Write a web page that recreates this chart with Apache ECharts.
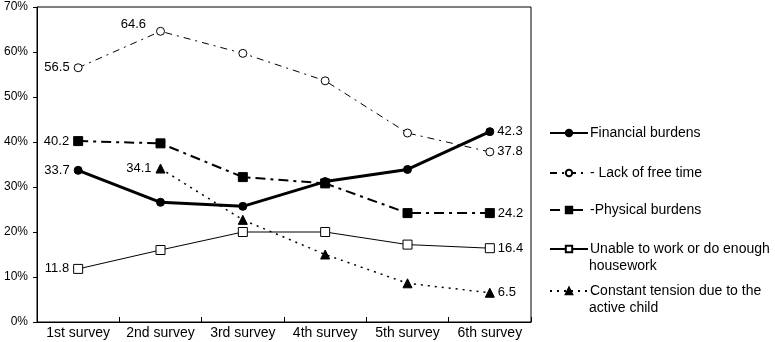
<!DOCTYPE html>
<html>
<head>
<meta charset="utf-8">
<script src="https://cdn.jsdelivr.net/npm/echarts@6/dist/echarts.min.js"></script>
<style>html,body{margin:0;padding:0;background:#fff;}#c{width:775px;height:342px;}</style>
</head>
<body>
<div id="c"></div>
<script>
var categories = ['1st survey','2nd survey','3rd survey','4th survey','5th survey','6th survey'];
var yTicks = [0,10,20,30,40,50,60,70];
var financial = [33.7, 26.6, 25.7, 31.2, 33.9, 42.3];
var freeTime  = [56.5, 64.6, 59.7, 53.6, 42.0, 37.8];
var physical  = [40.2, 39.7, 32.2, 30.8, 24.2, 24.2];
var unable    = [11.8, 16.0, 20.0, 20.0, 17.2, 16.4];
var tension   = [null, 34.1, 22.7, 15.0, 8.6, 6.5];
var names = ['Financial burdens','Lack of free time','Physical burdens','Unable to work or do enough housework','Constant tension due to the active child'];
var legendLines = [['Financial burdens'],['- Lack of free time'],['-Physical burdens'],['Unable to work or do enough','housework'],['Constant tension due to the','active child']];
// which points carry a value label, and where
var labelled = [
  {0:'left',5:'right'},
  {0:'left',1:'above',5:'right'},
  {0:'left',5:'right'},
  {0:'left',5:'right'},
  {1:'left',5:'right'}
];
var FONT = 'Liberation Sans';
var fontSize = 13;

function build(values, idx){
  return values.map(function(v,i){
    var pos = labelled[idx][i];
    if (v === null) return null;
    if (!pos) return v;
    var lab = {show:true, color:'#000', fontFamily:FONT, fontSize:fontSize, formatter: v.toFixed(1)};
    if (pos === 'left') { lab.position = 'left'; lab.distance = 4; }
    else if (pos === 'right') { lab.position = 'right'; lab.distance = 3; }
    else { lab.position = 'left'; lab.distance = 5; lab.offset = [-5,-7]; }
    return {value: v, label: lab};
  });
}

var styles = [
  {line:{width:3, type:'solid'}, symbol:'circle', size:8, fill:'#000'},
  {line:{width:1, type:[7,5,2,5]}, symbol:'circle', size:8, fill:'#fff'},
  {line:{width:2, type:[10,5,3,5]}, symbol:'rect', size:9, fill:'#000'},
  {line:{width:1, type:'solid'}, symbol:'rect', size:9, fill:'#fff'},
  {line:{width:1.5, type:[2,5]}, symbol:'triangle', size:9, fill:'#000'}
];
var dataSets = [financial, freeTime, physical, unable, tension];

var series = dataSets.map(function(d,i){
  var s = styles[i];
  return {
    name: names[i], type:'line', data: build(d,i),
    symbol: s.symbol, symbolSize: s.size, showAllSymbol:true,
    connectNulls:false, animation:false,
    lineStyle:{color:'#000', width:s.line.width, type:s.line.type},
    itemStyle:{color:s.fill, borderColor:'#000', borderWidth:1, opacity:1},
    label:{show:false},
    emphasis:{disabled:true}
  };
});

var legendTops = [126, 166, 203, 242, 284];
var legends = names.map(function(n,i){
  return {
    data:[n], left:549, top:legendTops[i], orient:'vertical', padding:0,
    itemWidth:38, itemHeight:8, itemGap:0, selectedMode:false,
    textStyle:{color:'#000', fontFamily:FONT, fontSize:14, padding:[0,0,0,-3]},
    formatter: function(){ return legendLines[i][0]; }
  };
});
var graphics = [];
legendLines.forEach(function(l,i){
  if (l.length > 1) {
    graphics.push({type:'text', left:589, top:legendTops[i]+17,
      style:{text:l[1], fill:'#000', font: '14px "'+FONT+'"'}});
  }
});

var chart = echarts.init(document.getElementById('c'));
chart.setOption({
  animation:false,
  backgroundColor:'#fff',
  grid:{left:37, right:244, top:7, bottom:20, show:true, borderColor:'#000', borderWidth:1},
  legend: legends,
  graphic: graphics,
  xAxis:{type:'category', data:categories, boundaryGap:true,
    axisLine:{lineStyle:{color:'#000', width:1}},
    axisTick:{show:true, inside:true, length:5, alignWithLabel:false, lineStyle:{color:'#000'}},
    axisLabel:{color:'#000', fontFamily:FONT, fontSize:14, margin:4, interval:0},
    splitLine:{show:false}},
  yAxis:{type:'value', min:yTicks[0], max:yTicks[yTicks.length-1], interval:10,
    axisLine:{show:true, lineStyle:{color:'#000'}},
    axisTick:{show:true, length:4, lineStyle:{color:'#000'}},
    axisLabel:{color:'#000', fontFamily:FONT, fontSize:12, margin:9, formatter:'{value}%'},
    splitLine:{show:false}},
  series: series
});
</script>
</body>
</html>
